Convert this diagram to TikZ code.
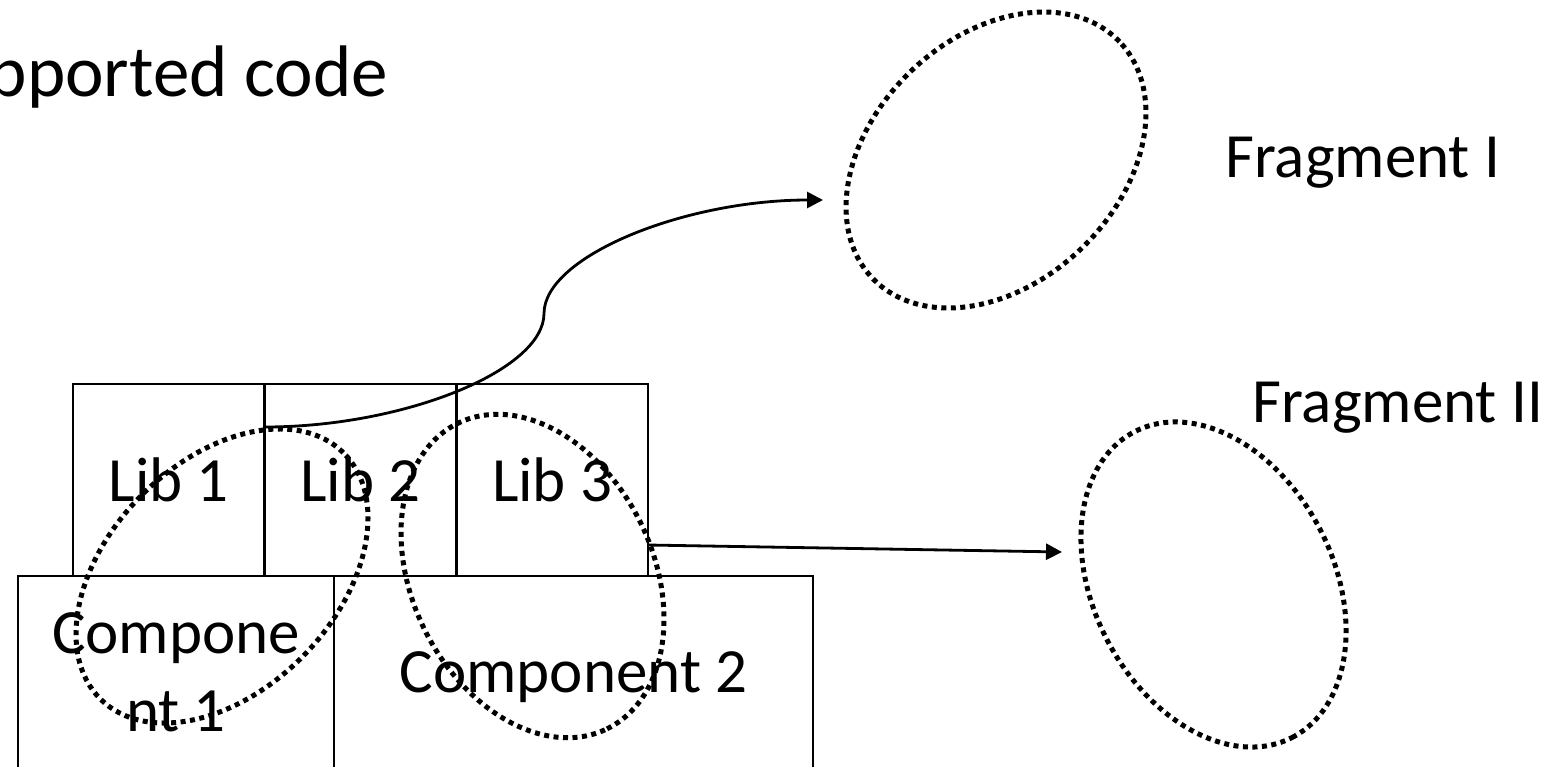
\documentclass[tikz,border=0pt]{standalone}
\usepackage{fontspec}
\setmainfont{Carlito}
\usepackage{tikz}
\usetikzlibrary{arrows.meta,shapes.geometric}
\newcommand\labfont{\fontsize{63}{78}\selectfont}
\newcommand\headfont{\fontsize{73}{88}\selectfont}
\tikzset{
  box/.style={draw,line width=2.4pt,inner sep=0pt,outer sep=0pt,font=\labfont},
  libbox/.style={box,minimum width=191.67pt,minimum height=192pt,text depth=0pt},
  blob/.style={ellipse,draw,line width=5pt,dash pattern=on 5pt off 4.5pt,inner sep=0pt},
  link/.style={->,line width=2.8pt},
}

\begin{document}
\begin{tikzpicture}[x=1pt,y=-1pt,>={Triangle[length=16pt,width=16pt]}]
    \useasboundingbox (0,0) rectangle (1557,766);

    % heading runs off the left edge
    \path (388,96) node[anchor=base east,inner sep=0pt,font=\headfont] (T) {pported code};

    \path
    (168.8,480) node[libbox] (L1) {Lib 1}
    (360.5,480) node[libbox] (L2) {Lib 2}
    (552.2,480) node[libbox] (L3) {Lib 3}
    ;
    \path
    (176,672) node[box,align=center,minimum width=316pt,minimum height=192pt] (C1) {Compone\\nt 1}
    (573.5,672) node[box,minimum width=479pt,minimum height=192pt,text depth=0pt] (C2) {Component 2}
    ;

    \path
    (222,576) node[blob,minimum width=346pt,minimum height=228pt,rotate=45.5] (E1) {}
    (532.5,576) node[blob,minimum width=340pt,minimum height=241pt,rotate=-64] (E2) {}
    (996,160) node[blob,minimum width=342pt,minimum height=246pt,rotate=43.8] (FF1) {}
    (1213.5,584.5) node[blob,minimum width=344pt,minimum height=240pt,rotate=-62.8] (FF2) {}
    ;

    \path
    (1225,177) node[anchor=base west,inner sep=0pt,font=\labfont] (F1) {Fragment I}
    (1252,422) node[anchor=base west,inner sep=0pt,font=\labfont] (F2) {Fragment II}
    ;

    \coordinate (M) at (544,313.5);
    \coordinate (A1) at (823,200);
    \coordinate (A2) at (1062,552);
    \draw[link] ([yshift=-43pt]L2.north west)
    .. controls +(139.5,0) and +(0,56.75) .. (M)
    .. controls +(0,-56.75) and +(-139.5,0) .. (A1);
    \draw[link] ([yshift=-161pt]L3.north east) -- (A2);
  \end{tikzpicture}
\end{document}
